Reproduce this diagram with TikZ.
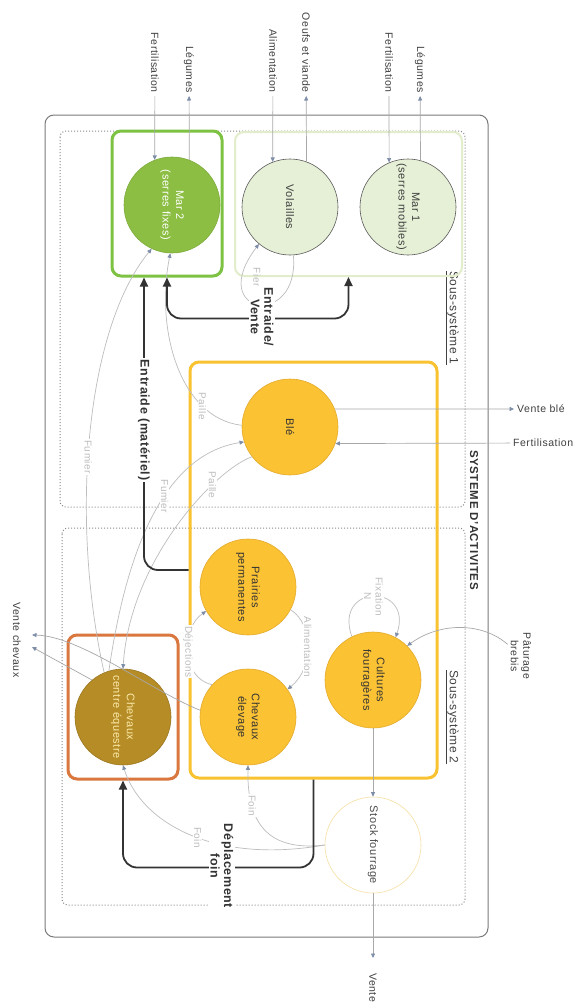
\documentclass[tikz,border=0pt]{standalone}
\usepackage{fontspec}
\setmainfont{Liberation Sans}[LetterSpace=5]
\usetikzlibrary{arrows.meta,calc}
\definecolor{lineg}{HTML}{A8A8A8}
\definecolor{lightg}{HTML}{BDBDBD}
\definecolor{tipc}{HTML}{7E8DA8}
\definecolor{labg}{HTML}{BDBDBD}
\definecolor{dark}{HTML}{333333}
\definecolor{marG}{HTML}{8CBE43}
\definecolor{marBox}{HTML}{7DC242}
\definecolor{lgFill}{HTML}{E6F0D6}
\definecolor{lgBox}{HTML}{E2EDCB}
\definecolor{yFill}{HTML}{FBC234}
\definecolor{yBox}{HTML}{F9C231}
\definecolor{yBorder}{HTML}{E3AA2C}
\definecolor{horse}{HTML}{B68C27}
\definecolor{horseT}{HTML}{FBEAA8}
\definecolor{oBox}{HTML}{D9773F}
\definecolor{stockB}{HTML}{F5DFA2}
\definecolor{frame}{HTML}{7A7A7A}
\definecolor{dotc}{HTML}{8A8A8A}
\begin{document}
\begin{tikzpicture}[x=1pt,y=-1pt,
  circ/.style={circle, minimum size=96pt, inner sep=0pt, align=center, rotate=-90,
    font=\fontsize{11}{13.5}\selectfont, line width=0.6pt},
  ycirc/.style={circ, fill=yFill, draw=yBorder, text=dark},
  gcirc/.style={circ, fill=lgFill, draw=black!65, text=black!75},
  lab/.style={rotate=-90, font=\fontsize{10.5}{12.5}\selectfont, text=black!75, inner sep=3pt, align=center},
  hlab/.style={font=\fontsize{10.5}{12.5}\selectfont, text=black!75, inner sep=3pt},
  elab/.style={rotate=-90, font=\fontsize{10}{11.5}\selectfont, text=labg, fill=white, inner sep=1pt, align=center},
  blab/.style={rotate=-90, font=\bfseries\fontsize{12.5}{13.5}\selectfont, text=dark, fill=white, inner sep=2pt, align=center},
  flow/.style={draw=lineg, line width=0.7pt, -{Triangle[length=4.5pt,width=4pt,color=tipc]}},
  lflow/.style={flow, draw=lightg},
  big/.style={draw=dark, line width=1.8pt},
  bigtip/.style={-{Triangle[length=9pt,width=8pt]}},
  boxn/.style={rounded corners=9pt, inner sep=0pt},
  sub/.style={draw=dotc, dotted, line width=1pt, rounded corners=6pt}
]
\useasboundingbox (0,0) rectangle (579,1007);
\fill[white] (0,0) rectangle (579,1007);

% frames
\draw[frame, line width=1pt, rounded corners=9pt] (45,115) rectangle (488,937);
\draw[sub] (60,131) rectangle (465,507);
\draw[sub] (62,528) rectangle (465,905);
\node[rotate=-90, font=\bfseries\fontsize{11.5}{13}\selectfont, text=dark] (sysl) at (474,520) {SYSTEME D'ACTIVITES};
\node[rotate=-90, font=\fontsize{12}{13}\selectfont, text=black!75] (s1l) at (452,318) {\underline{Sous-système 1}};
\node[rotate=-90, font=\fontsize{12}{13}\selectfont, text=black!75] (s2l) at (452,717) {\underline{Sous-système 2}};

% boxes
\node[boxn, draw=marBox, line width=3pt, minimum width=110pt, minimum height=145pt] (m2box) at (167,203.5) {};
\node[boxn, draw=lgBox, line width=2pt, minimum width=227pt, minimum height=144pt] (lbox) at (348.5,204) {};
\node[boxn, draw=yBox, line width=3pt, minimum width=247pt, minimum height=416pt] (ybox) at (313.5,570) {};
\node[boxn, draw=oBox, line width=3pt, minimum width=110pt, minimum height=144pt] (obox) at (123,707) {};

% circles
\node[circ, fill=marG, draw=marG!90!black, text=white] (mar2) at (172,205) {Mar 2\\(serres fixes)};
\node[gcirc] (vol) at (290,207) {Volailles};
\node[gcirc] (mar1) at (408,207) {Mar 1\\(serres mobiles)};
\node[ycirc] (ble) at (290,427) {Blé};
\node[ycirc] (prai) at (248,587) {Prairies\\permanentes};
\node[ycirc] (elev) at (248,717) {Chevaux\\élevage};
\node[ycirc] (cf) at (373,680) {Cultures\\fourragères};
\node[circ, fill=horse, draw=horse!85!black, text=horseT] (centre) at (123,717) {Chevaux\\centre équestre};
\node[circ, fill=white, draw=stockB, text=black!70] (stock) at (373,845) {Stock fourrage};

% top labels and flows
\node[lab, anchor=east] (f2) at (155,96) {Fertilisation};
\node[lab, anchor=east] (l2) at (189,96) {Légumes};
\node[lab, anchor=east] (alim) at (273,96) {Alimentation};
\node[lab, anchor=east] (oeuf) at (306,96) {Oeufs et viande};
\node[lab, anchor=east] (f1) at (389,96) {Fertilisation};
\node[lab, anchor=east] (l1) at (420,96) {Légumes};
\draw[flow] (f2) -- (mar2.201);
\draw[flow] (mar2.159) -- (l2);
\draw[flow] (alim) -- (vol.201);
\draw[flow] (vol.160) -- (oeuf);
\draw[flow] (f1) -- (mar1.203);
\draw[flow] (mar1.165.5) -- (l1);

% Volailles loop
\draw[lflow] (vol.4) .. controls (300,330) and (205,315) .. (vol.320);
\node[elab, fill=none] (fiente) at (257,283) {Fiente};

% right side labels
\node[hlab, anchor=west] (vb) at (514,409) {Vente blé};
\node[hlab, anchor=west] (fb) at (510,443) {Fertilisation};
\draw[flow] (ble.112.5) -- (vb);
\draw[flow] (fb) -- (ble.70);

\node[lab] (pat) at (521,656) {Pâturage\\brebis};
\draw[flow] (pat) .. controls (482,622) and (440,622) .. (cf.135);

% cultures - stock - vente
\node[lab, anchor=west] (vente) at (373,970) {Vente};
\draw[flow] (cf.0) -- (stock.180);
\draw[flow, shorten >=12pt] (stock.0) -- (vente);

% Fixation loop
\draw[lflow] (cf.206) .. controls (333,583) and (414,583) .. node[elab, pos=.5] {Fixation\\N} (cf.152);

% Alimentation / Dejections
\draw[lflow] (prai.62) .. controls (314,625) and (314,668) .. node[elab, pos=.5] {Alimentation} (elev.125.5);
\draw[lflow] (elev.228) .. controls (181,678) and (181,628) .. node[elab, pos=.5] {Déjections} (prai.300);

% Fumier / Paille
\draw[lflow] (centre.203) .. controls (70,520) and (85,330) .. node[elab, pos=.45] {Fumier} (mar2.335);
\draw[lflow] (ble.268) .. controls (180,418) and (155,330) .. node[elab, pos=.25] {Paille} (mar2.358);
\draw[lflow] (centre.197) .. controls (125,560) and (160,455) .. node[elab, pos=.6] {Fumier} (ble.288);
\draw[lflow] (ble.308) .. controls (215,470) and (130,560) .. node[elab, pos=.28] {Paille} (centre.180);

% Foin
\draw[lflow] (stock.270) .. controls (265,852) and (247,820) .. node[elab, pos=.72] {Foin} (elev.0);
\draw[lflow] (stock.270) .. controls (210,865) and (140,820) .. node[elab, pos=.45] {Foin} (centre.0);

% Vente chevaux
\node[lab] (vch) at (17,640) {Vente chevaux};
\coordinate (vc1) at (32,635);
\coordinate (vc2) at (32,647);
\draw[flow] (elev.262) .. controls (150,690) and (80,636) .. (vc1);
\draw[flow] (centre.220) -- (vc2);

% bold arrows
\draw[big, {Triangle[length=9pt,width=8pt]}-{Triangle[length=9pt,width=8pt]}, rounded corners=14pt]
  (m2box.south) -- ++(0,41) -| (lbox.south);
\node[blab] (ev) at (262,317) {Entraide/\\Vente};
\draw[big, bigtip, rounded corners=14pt] (ybox.west |- 0,570) -| ([xshift=-23pt]m2box.south);
\node[blab] (em) at (144,420) {Entraide (matériel)};
\draw[big, bigtip, rounded corners=14pt] (ybox.south) -- ++(0,88) -| (obox.south);
\node[blab] (dep) at (222,866) {Déplacement\\foin};
\end{tikzpicture}
\end{document}
